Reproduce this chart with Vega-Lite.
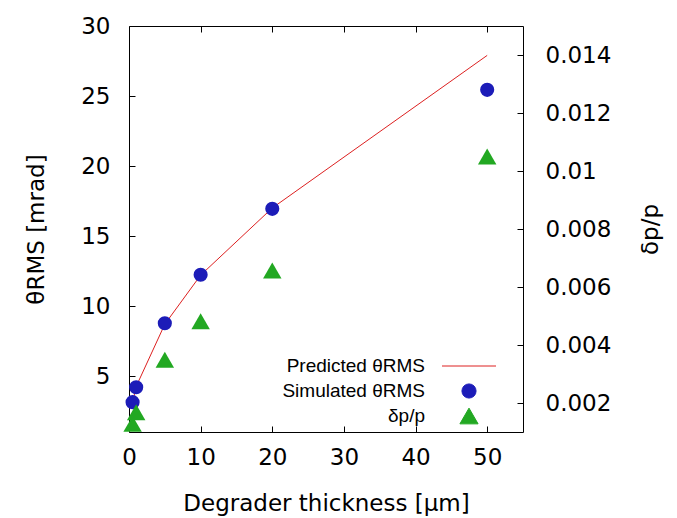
{
  "$schema": "https://vega.github.io/schema/vega-lite/v6.json",
  "width": 394,
  "height": 406,
  "autosize": {"type": "none"},
  "padding": {"left": 129, "top": 26, "right": 154, "bottom": 86},
  "background": "white",
  "config": {
    "font": "DejaVu Sans",
    "view": {"stroke": "#000000", "strokeWidth": 1},
    "axis": {
      "grid": false,
      "domain": false,
      "labelFlush": false,
      "labelOverlap": false,
      "tickColor": "#000000",
      "tickSize": -6,
      "tickWidth": 1,
      "labelFont": "DejaVu Sans",
      "labelFontSize": 23,
      "labelColor": "#000000",
      "titleFont": "DejaVu Sans",
      "titleFontSize": 23,
      "titleFontWeight": "normal",
      "titleColor": "#000000"
    },
    "legend": {
      "labelFont": "Liberation Sans",
      "labelFontSize": 19,
      "labelColor": "#000000"
    }
  },
  "datasets": {
    "predicted": [
      {"series": "Predicted θRMS", "thickness": 0.5, "theta": 3.1},
      {"series": "Predicted θRMS", "thickness": 1, "theta": 4.25},
      {"series": "Predicted θRMS", "thickness": 5, "theta": 8.7},
      {"series": "Predicted θRMS", "thickness": 10, "theta": 12.2},
      {"series": "Predicted θRMS", "thickness": 20, "theta": 17.0},
      {"series": "Predicted θRMS", "thickness": 50, "theta": 27.9}
    ],
    "simulated": [
      {"series": "Simulated θRMS", "thickness": 0.5, "theta": 3.13},
      {"series": "Simulated θRMS", "thickness": 1, "theta": 4.2},
      {"series": "Simulated θRMS", "thickness": 5, "theta": 8.77},
      {"series": "Simulated θRMS", "thickness": 10, "theta": 12.23},
      {"series": "Simulated θRMS", "thickness": 20, "theta": 16.94},
      {"series": "Simulated θRMS", "thickness": 50, "theta": 25.44}
    ],
    "dpp": [
      {"series": "δp/p", "thickness": 0.5, "dpp": 0.00128},
      {"series": "δp/p", "thickness": 1, "dpp": 0.00168},
      {"series": "δp/p", "thickness": 5, "dpp": 0.00349},
      {"series": "δp/p", "thickness": 10, "dpp": 0.00482},
      {"series": "δp/p", "thickness": 20, "dpp": 0.00657},
      {"series": "δp/p", "thickness": 50, "dpp": 0.0105}
    ]
  },
  "layer": [
    {
      "data": {"name": "predicted"},
      "mark": {"type": "line", "strokeWidth": 1, "clip": false},
      "encoding": {
        "x": {
          "field": "thickness", "type": "quantitative",
          "scale": {"domain": [0, 55], "nice": false, "zero": false},
          "axis": {"title": "Degrader thickness [μm]", "values": [0, 10, 20, 30, 40, 50], "labelPadding": 20, "titlePadding": 23, "orient": "bottom"}
        },
        "y": {
          "field": "theta", "type": "quantitative",
          "scale": {"domain": [1, 30], "nice": false, "zero": false},
          "axis": {"title": "θRMS [mrad]", "values": [5, 10, 15, 20, 25, 30], "labelPadding": 25, "titlePadding": 32, "orient": "left"}
        },
        "color": {
          "field": "series", "type": "nominal",
          "scale": {"domain": ["Predicted θRMS", "Simulated θRMS", "δp/p"], "range": ["#dd2020", "#1c1cb8", "#22a822"]},
          "legend": {
            "title": null,
            "orient": "none",
            "legendX": 330,
            "legendY": 330,
            "padding": 0,
            "rowPadding": 5,
            "symbolOffset": 0,
            "labelAlign": "right",
            "labelOffset": -54,
            "symbolSize": 130,
            "encode": {
              "symbols": {
                "update": {
                  "shape": {"signal": "datum.value === 'Predicted θRMS' ? 'stroke' : datum.value === 'Simulated θRMS' ? 'circle' : 'triangle-up'"},
                  "size": {"signal": "datum.value === 'Predicted θRMS' ? 2916 : datum.value === 'Simulated θRMS' ? 200 : 330"},
                  "fill": {"signal": "datum.value === 'Predicted θRMS' ? 'transparent' : scale('color', datum.value)"},
                  "stroke": {"signal": "datum.value === 'Predicted θRMS' ? scale('color', datum.value) : 'transparent'"},
                  "strokeWidth": {"value": 1},
                  "opacity": {"value": 1},
                  "fillOpacity": {"value": 1}
                }
              }
            }
          }
        }
      }
    },
    {
      "data": {"name": "simulated"},
      "mark": {"type": "point", "shape": "circle", "filled": true, "size": 200, "opacity": 1, "clip": false},
      "encoding": {
        "x": {"field": "thickness", "type": "quantitative", "axis": null},
        "y": {
          "field": "theta", "type": "quantitative",
          "scale": {"domain": [1, 30], "nice": false, "zero": false},
          "axis": null
        },
        "color": {"field": "series", "type": "nominal"}
      }
    },
    {
      "data": {"name": "dpp"},
      "mark": {"type": "point", "shape": "triangle-up", "filled": true, "size": 340, "opacity": 1, "clip": false},
      "encoding": {
        "x": {
          "field": "thickness", "type": "quantitative",
          "axis": {"orient": "top", "title": null, "labels": false, "values": [10, 20, 30, 40, 50]}
        },
        "y": {
          "field": "dpp", "type": "quantitative",
          "scale": {"domain": [0.001, 0.015], "nice": false, "zero": false},
          "axis": {"orient": "right", "title": "δp/p", "titleAngle": 270, "values": [0.002, 0.004, 0.006, 0.008, 0.01, 0.012, 0.014], "format": "~g", "labelPadding": 28, "titlePadding": 52}
        },
        "color": {"field": "series", "type": "nominal"}
      }
    }
  ],
  "resolve": {"scale": {"y": "independent"}, "axis": {"x": "independent", "y": "independent"}}
}
